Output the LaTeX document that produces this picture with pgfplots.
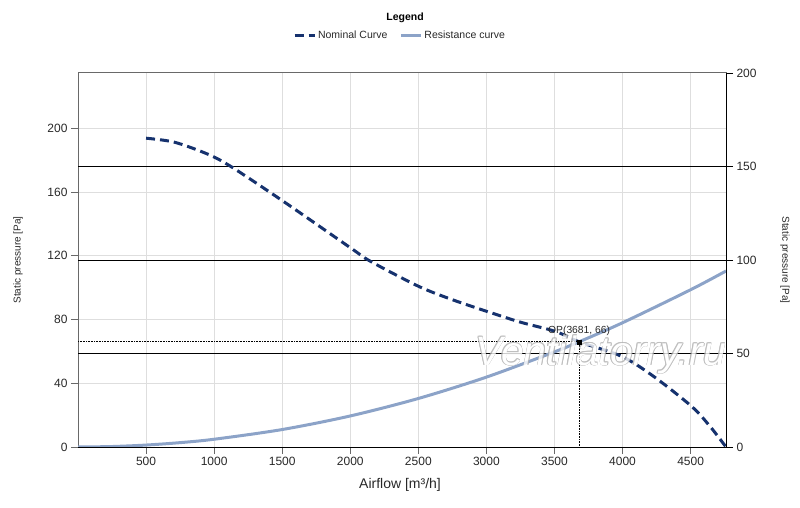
\documentclass[border=0pt]{standalone}
\usepackage{fontspec}
\setmainfont{Liberation Sans}
\usepackage{pgfplots}
\pgfplotsset{compat=1.18}
\definecolor{nomc}{RGB}{22,50,110}
\definecolor{resc}{RGB}{140,163,200}
\definecolor{gridc}{RGB}{222,222,222}
\definecolor{axc}{RGB}{105,105,105}
\definecolor{txtc}{RGB}{40,40,40}
\definecolor{wmc}{RGB}{175,175,175}
\newcommand\wmtext{Ventilatorry.ru}
\tikzset{wm/.style={anchor=base west, inner sep=0pt, font=\itshape\fontsize{41}{44}\selectfont}}
\begin{document}
\begin{tikzpicture}[x=1pt,y=1pt]
\useasboundingbox (0,0) rectangle (800,507);
\begin{axis}[
  at={(78pt,60pt)}, anchor=origin,
  scale only axis, width=648pt, height=374pt,
  xmin=0, xmax=4760, ymin=0, ymax=234.6,
  xtick={500,1000,...,4500}, ytick={0,40,...,200},
  xtick pos=bottom, ytick pos=left,
  grid=major, major grid style={gridc, line width=0.8pt},
  extra y ticks={58.65,117.3,175.95}, extra y tick labels={},
  extra y tick style={major grid style={black, line width=0.8pt}, major tick length=0pt},
  tick align=outside, major tick length=7pt,
  tick style={axc, line width=0.8pt},
  axis line style={axc, line width=1pt},
  ticklabel style={font=\fontsize{12}{14}\selectfont, text=txtc},
  /pgf/number format/assume math mode=true,
  /pgf/number format/1000 sep={},
  xlabel={Airflow [m³/h]}, ylabel={Static pressure [Pa]},
  every axis x label/.style={at={(axis description cs:0.497,-0.1016)}, anchor=center, font=\fontsize{14}{16}\selectfont, text=txtc},
  every axis y label/.style={at={(axis description cs:-0.0926,0.5)}, rotate=90, anchor=center, font=\fontsize{10}{12}\selectfont, text=txtc},
  legend columns=2,
  legend style={at={(axis description cs:0.4969,1.1016)}, anchor=center, draw=none, fill=none, font=\fontsize{10.5}{12}\selectfont, text=txtc, /tikz/every even column/.append style={column sep=10pt}},
  legend image code/.code={\draw[#1] (0pt,0pt) -- (20pt,0pt);},
]
\addplot[nomc, line width=3pt, dash pattern=on 9pt off 5pt, smooth, tension=0.5] coordinates {
(500,193.7) (708,191.2) (953,183.7) (1124,175.9) (1510,154) (2004,124.8) (2150,116.4) (2504,100.7) (2750,92.4) (3006,85) (3250,78.3) (3507,72.5) (3681,66) (3995,56.8) (4228,44.3) (4507,25.5) (4643,12.9) (4760,0)
};
\addlegendentry{Nominal Curve}
\addplot[resc, line width=3pt, smooth] coordinates {
(0,0) (250,0.30) (500,1.22) (750,2.74) (1000,4.87) (1500,10.96) (2000,19.48) (2500,30.44) (3000,43.84) (3500,59.67) (3681,66.0) (4000,77.94) (4500,98.64) (4760,110.4)
};
\addlegendentry{Resistance curve}
\addplot[black, line width=0.6pt, densely dotted, forget plot] coordinates {(0,66) (3681,66) (3681,0)};
\begin{scope}[transparency group, opacity=0.8]
\node[wm, text=wmc, xshift=0.8pt] at (axis cs:2916,51.4) {\wmtext};
\node[wm, text=wmc, xshift=-0.8pt] at (axis cs:2916,51.4) {\wmtext};
\node[wm, text=wmc, yshift=0.8pt] at (axis cs:2916,51.4) {\wmtext};
\node[wm, text=wmc, yshift=-0.8pt] at (axis cs:2916,51.4) {\wmtext};
\node[wm, text=wmc, xshift=0.6pt, yshift=0.6pt] at (axis cs:2916,51.4) {\wmtext};
\node[wm, text=wmc, xshift=-0.6pt, yshift=0.6pt] at (axis cs:2916,51.4) {\wmtext};
\node[wm, text=wmc, xshift=0.6pt, yshift=-0.6pt] at (axis cs:2916,51.4) {\wmtext};
\node[wm, text=wmc, xshift=-0.6pt, yshift=-0.6pt] at (axis cs:2916,51.4) {\wmtext};
\node[wm, text=white] at (axis cs:2916,51.4) {\wmtext};
\end{scope}
\addplot[only marks, mark=square*, mark size=2pt, black, forget plot] coordinates {(3681,66)};
\node[anchor=base, font=\fontsize{10.3}{12}\selectfont, text=txtc] at (axis cs:3681,71.5) {OP(3681, 66)};
\end{axis}
\begin{axis}[
  at={(78pt,60pt)}, anchor=origin,
  scale only axis, width=648pt, height=374pt,
  xmin=0, xmax=4760, ymin=0, ymax=200,
  axis y line*=right, axis x line=none,
  ytick={0,50,...,200},
  tick align=outside, major tick length=7pt,
  tick style={black, line width=0.8pt},
  axis line style={black, line width=1pt},
  ticklabel style={font=\fontsize{12}{14}\selectfont, text=txtc},
  /pgf/number format/assume math mode=true,
  ylabel={Static pressure [Pa]},
  every axis y label/.style={at={(axis description cs:1.091,0.5)}, rotate=-90, anchor=center, font=\fontsize{10}{12}\selectfont, text=txtc},
]
\draw[black, line width=1pt] (rel axis cs:0,0) -- (rel axis cs:1,0);
\end{axis}
\node[font=\bfseries\fontsize{10.5}{12}\selectfont, text=black] at (405,489) {Legend};
\end{tikzpicture}
\end{document}
